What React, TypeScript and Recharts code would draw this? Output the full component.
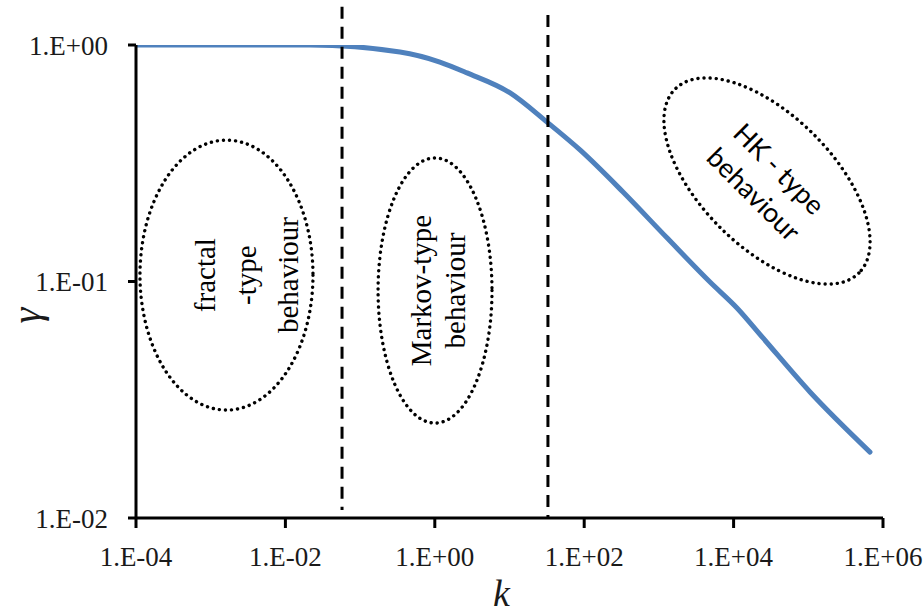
import { LineChart, Line, XAxis, YAxis, ReferenceLine, ReferenceArea, ReferenceDot, Label } from 'recharts';

// curve
const kValues = [1e-4, 0.0213, 0.342, 1.17, 2.7, 10.2, 31.8, 87.9, 331, 1283, 4830, 11100, 24750, 105400, 670000];
const gammaValues = [1.0, 1.0, 0.934, 0.847, 0.762, 0.627, 0.472, 0.36, 0.239, 0.153, 0.0995, 0.0773, 0.0577, 0.0341, 0.019];

const kTicks = [1e-4, 1e-2, 1, 1e2, 1e4, 1e6];
const kTickLabels = ['1.E-04', '1.E-02', '1.E+00', '1.E+02', '1.E+04', '1.E+06'];
const gammaTicks = [0.01, 0.1, 1];
const gammaTickLabels = ['1.E-02', '1.E-01', '1.E+00'];

// dashed regime boundaries
const boundaryK = [0.0573, 32.7];
const boundaryTop = [1.45, 1.34];
const boundaryBottom = [0.0108, 0.0101];

// regime regions (k range, gamma range)
const fractalK = [1.13e-4, 0.0234];
const fractalGamma = [0.0286, 0.396];
const fractalLines = ['fractal', '-type', 'behaviour'];

const markovK = [0.174, 5.83];
const markovGamma = [0.0252, 0.333];
const markovLines = ['Markov-type', 'behaviour'];

const hkCenter = { k: 28000, gamma: 0.266 };
const hkLines = ['HK - type', 'behaviour'];

const data = kValues.map((k, i) => ({ k, gamma: gammaValues[i] }));

const serif = '"Liberation Serif", "Times New Roman", serif';
const dotted = { stroke: '#000', strokeWidth: 3.4, strokeDasharray: '0.1 6', strokeLinecap: 'round' as const, fill: 'none' };

const tickLabel = (ticks: number[], labels: string[]) => (v: number) => {
  const i = ticks.findIndex((t) => Math.abs(Math.log10(t) - Math.log10(v)) < 1e-6);
  return i >= 0 ? labels[i] : '';
};

// vertical text block inside an ellipse; offsets are baseline positions from the ellipse centre
const regionShape = (lines: string[], offsets: number[]) => (props: any) => {
  const { x, y, width, height } = props;
  const cx = x + width / 2;
  const cy = y + height / 2;
  return (
    <g>
      <ellipse cx={cx} cy={cy} rx={width / 2} ry={height / 2} {...dotted} />
      {lines.map((t, i) => (
        <text
          key={t + i}
          x={cx + offsets[i]}
          y={cy}
          transform={`rotate(-90 ${cx + offsets[i]} ${cy})`}
          textAnchor="middle"
          fontFamily={serif}
          fontSize={29}
          fill="#000"
        >
          {t}
        </text>
      ))}
    </g>
  );
};

const hkShape = (props: any) => {
  const { cx, cy } = props;
  return (
    <g transform={`rotate(45 ${cx} ${cy})`}>
      <ellipse cx={cx} cy={cy} rx={130} ry={66} {...dotted} />
      {hkLines.map((t, i) => (
        <text
          key={t}
          x={cx}
          y={cy + (i === 0 ? -18 : 18)}
          textAnchor="middle"
          dominantBaseline="central"
          fontFamily='Lato, "Liberation Sans", sans-serif'
          fontSize={27}
          fill="#000"
        >
          {t}
        </text>
      ))}
    </g>
  );
};

export default function App() {
  return (
    <div style={{ position: 'absolute', left: 0, top: 0, width: 924, height: 615, background: '#fff' }}>
      <LineChart width={924} height={615} data={data} margin={{ top: 45, right: 41, bottom: 0, left: 0 }}>
        <XAxis
          dataKey="k"
          type="number"
          scale="log"
          domain={[1e-4, 1e6]}
          ticks={kTicks}
          allowDataOverflow
          tickFormatter={tickLabel(kTicks, kTickLabels)}
          height={97}
          axisLine={{ stroke: '#000', strokeWidth: 3 }}
          tickLine={{ stroke: '#000', strokeWidth: 3 }}
          tickSize={10}
          tickMargin={19}
          tick={{ fontFamily: serif, fontSize: 27, fill: '#1a1a1a' }}
        >
          <Label
            content={({ viewBox }: any) => (
              <text
                x={viewBox.x + viewBox.width / 2 - 8}
                y={viewBox.y + 88}
                textAnchor="middle"
                fontFamily={serif}
                fontStyle="italic"
                fontSize={38}
                fill="#1a1a1a"
              >
                k
              </text>
            )}
          />
        </XAxis>
        <YAxis
          dataKey="gamma"
          type="number"
          scale="log"
          domain={[0.01, 1]}
          ticks={gammaTicks}
          allowDataOverflow
          tickFormatter={tickLabel(gammaTicks, gammaTickLabels)}
          width={136}
          axisLine={{ stroke: '#000', strokeWidth: 3 }}
          tickLine={{ stroke: '#000', strokeWidth: 3 }}
          tickSize={8}
          tickMargin={20}
          tick={{ fontFamily: serif, fontSize: 27, fill: '#1a1a1a' }}
        >
          <Label
            content={({ viewBox }: any) => {
              const x = viewBox.x + 40;
              const y = viewBox.y + viewBox.height / 2 + 34;
              return (
                <text
                  x={x}
                  y={y}
                  transform={`rotate(-90 ${x} ${y})`}
                  textAnchor="middle"
                  fontFamily={serif}
                  fontStyle="italic"
                  fontSize={40}
                  fill="#1a1a1a"
                >
                  γ
                </text>
              );
            }}
          />
        </YAxis>
        <ReferenceArea
          x1={fractalK[0]}
          x2={fractalK[1]}
          y1={fractalGamma[0]}
          y2={fractalGamma[1]}
          ifOverflow="visible"
          shape={regionShape(fractalLines, [-11.5, 29.5, 71.5])}
        />
        <ReferenceArea
          x1={markovK[0]}
          x2={markovK[1]}
          y1={markovGamma[0]}
          y2={markovGamma[1]}
          ifOverflow="visible"
          shape={regionShape(markovLines, [-4, 30])}
        />
        <ReferenceDot x={hkCenter.k} y={hkCenter.gamma} ifOverflow="visible" shape={hkShape} />
        <Line
          type="monotoneX"
          dataKey="gamma"
          stroke="#4f81bd"
          strokeWidth={5}
          strokeLinecap="round"
          strokeLinejoin="round"
          dot={false}
          isAnimationActive={false}
        />
        {boundaryK.map((k, i) => (
          <ReferenceLine
            key={k}
            segment={[
              { x: k, y: boundaryTop[i] },
              { x: k, y: boundaryBottom[i] },
            ]}
            ifOverflow="visible"
            stroke="#000"
            strokeWidth={3}
            strokeDasharray="12 8"
          />
        ))}
      </LineChart>
    </div>
  );
}
